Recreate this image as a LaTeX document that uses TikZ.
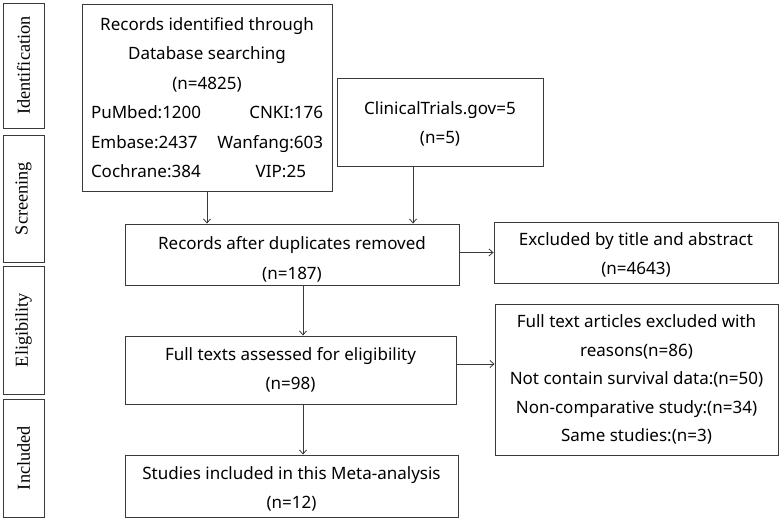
\documentclass[tikz,border=0pt]{standalone}
\usepackage{fontspec}
\setmainfont{Liberation Serif}
\newfontfamily\boxfont{Noto Sans}
\usetikzlibrary{arrows.meta}
\definecolor{linegray}{HTML}{3A3A3A}
\newcommand{\toppad}[1]{\rule{0pt}{#1}}
\begin{document}
\begin{tikzpicture}[x=1pt, y=-1pt,
    box/.style={draw=linegray, line width=0.9pt, inner sep=0pt, align=center,
        font=\boxfont\fontsize{17}{29.5}\selectfont},
    sidebox/.style={draw=linegray, line width=0.9pt, inner sep=0pt, rotate=90,
        minimum height=41pt, font=\fontsize{18.3}{20}\selectfont},
    arr/.style={draw=linegray, line width=0.8pt, -{Straight Barb[length=4pt,width=7pt]}}]
    \useasboundingbox (0,0) rectangle (780,520);

    % stage labels
    \node[sidebox, minimum width=125pt] (ident) at (23.5,65.5) {Identification};
    \node[sidebox, minimum width=127pt] (screen) at (23.5,198.5) {Screening};
    \node[sidebox, minimum width=128pt] (elig) at (23.5,330) {Eligibility};
    \node[sidebox, minimum width=118pt] (incl) at (23.5,458) {Included};

    % boxes
    \node[box, minimum width=250pt, minimum height=187pt] (rec) at (207,97.5)
        {Records identified through\\ Database searching\\ (n=4825)\\
         \makebox[232pt]{PuMbed:1200\hfill CNKI:176}\\
         \makebox[232pt]{Embase:2437\hfill Wanfang:603}\\
         \makebox[232pt]{Cochrane:384\hfill VIP:25\hspace{17pt}}};
    \node[box, minimum width=206pt, minimum height=88pt] (ct) at (440,122)
        {\toppad{17pt}ClinicalTrials.gov=5\\ (n=5)};
    \node[box, minimum width=334pt, minimum height=61pt] (dup) at (292,254.5)
        {\toppad{23pt}Records after duplicates removed\\ (n=187)};
    \node[box, minimum width=284pt, minimum height=61pt] (extitle) at (636,252.5)
        {\toppad{18pt}Excluded by title and abstract\\ (n=4643)};
    \node[box, minimum width=331pt, minimum height=68pt] (full) at (290.5,370)
        {Full texts assessed for eligibility\\ (n=98)};
    \node[box, minimum width=283pt, minimum height=151pt, font=\boxfont\fontsize{17}{28.5}\selectfont] (exfull) at (636.5,379.5)
        {Full text articles excluded with\\ reasons(n=86)\\ Not contain survival data:(n=50)\\
         Non-comparative study:(n=34)\\ Same studies:(n=3)};
    \node[box, minimum width=333pt, minimum height=62pt] (incbox) at (291.5,486)
        {\toppad{19pt}Studies included in this Meta-analysis\\ (n=12)};

    % arrows
    \draw[arr] (rec.south) -- (rec.south |- dup.north);
    \draw[arr] ([xshift=-27pt]ct.south) -- ([xshift=-27pt]ct.south |- dup.north);
    \draw[arr] ([yshift=2pt]dup.east) -- ([yshift=2pt]dup.east -| extitle.west);
    \draw[arr] ([xshift=11pt]dup.south) -- ([xshift=11pt]dup.south |- full.north);
    \draw[arr] ([yshift=6pt]full.east) -- ([yshift=6pt]full.east -| exfull.west);
    \draw[arr] ([xshift=12.5pt]full.south) -- ([xshift=12.5pt]full.south |- incbox.north);
\end{tikzpicture}
\end{document}
